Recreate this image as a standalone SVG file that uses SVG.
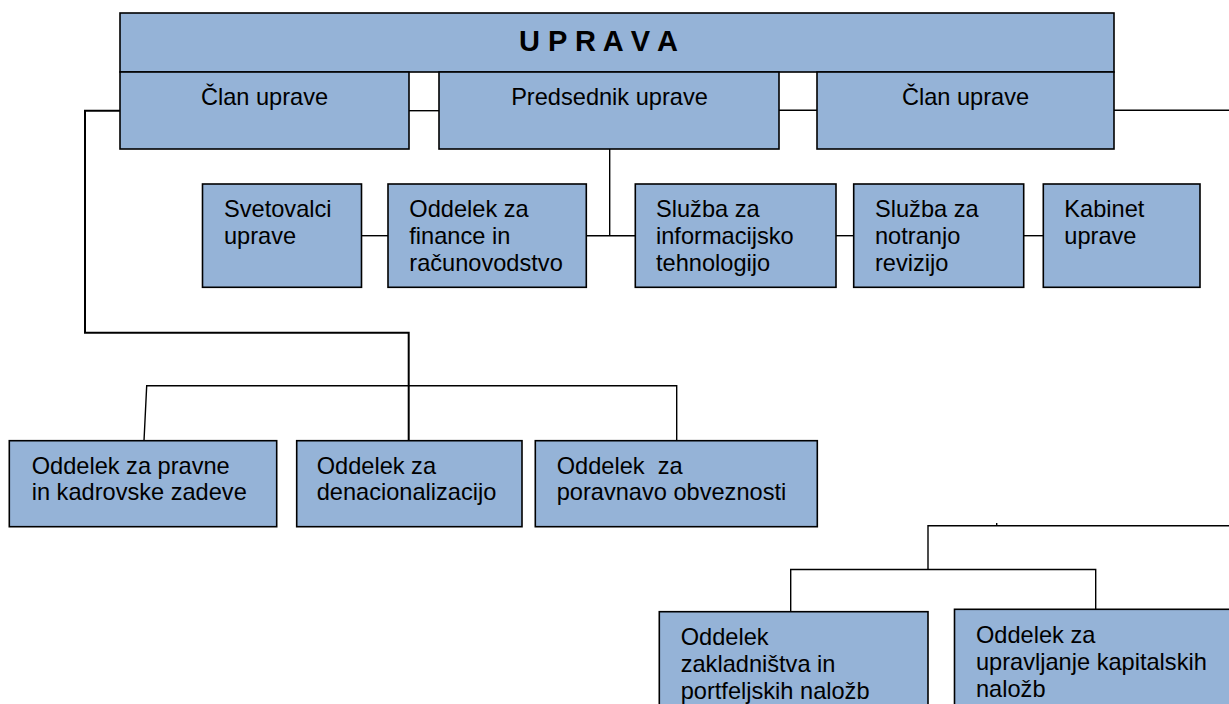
<svg xmlns="http://www.w3.org/2000/svg" width="1229" height="704" viewBox="0 0 1229 704">
<style>
.box{fill:#95B3D7;stroke:#000;stroke-width:1.6}
.t{font-family:"Liberation Sans",Arial,sans-serif;font-size:23.6px;fill:#000}
.c{text-anchor:middle}
.title{font-family:"Liberation Sans",Arial,sans-serif;font-size:29px;font-weight:bold;fill:#000}
.conn{fill:none;stroke:#000;stroke-width:1.4}
.conn2{fill:none;stroke:#000;stroke-width:2}
</style>
<rect width="1229" height="704" fill="#fff"/>
<g id="connectors">
<line class="conn" x1="409" y1="110.7" x2="439" y2="110.7"/>
<line class="conn" x1="779" y1="110.3" x2="817" y2="110.3"/>
<line class="conn" x1="1114" y1="110.3" x2="1229" y2="110.3"/>
<polyline class="conn2" points="120,110.7 85,110.7 85,332.7 408.7,332.7 408.7,440.7"/>
<polyline class="conn" points="144,440.7 146.7,385.7 676.7,385.7 676.7,440.7"/>
<line class="conn" x1="609.7" y1="149" x2="609.7" y2="235.7"/>
<line class="conn" x1="361.3" y1="235.7" x2="388" y2="235.7"/>
<line class="conn" x1="586.3" y1="235.7" x2="635.3" y2="235.7"/>
<line class="conn" x1="836" y1="235.7" x2="853.7" y2="235.7"/>
<line class="conn" x1="1023.7" y1="235.7" x2="1043.3" y2="235.7"/>
<polyline class="conn" points="1229,525.7 928,525.7 928,569.5"/>
<line class="conn" x1="996.7" y1="523" x2="996.7" y2="525.7"/>
<polyline class="conn" points="790.7,611.7 790.7,569.5 1095.7,569.5 1095.7,609.3"/>
</g>
<g id="uprava">
<rect class="box" x="120" y="13" width="994" height="59"/>
<text class="title" x="519" y="50.7">U P R A V A</text>
</g>
<g id="clan-levo">
<rect class="box" x="120" y="72" width="289" height="77"/>
<text class="t c" x="264.5" y="105">Član uprave</text>
</g>
<g id="predsednik">
<rect class="box" x="439" y="72" width="340" height="77"/>
<text class="t c" x="609.5" y="104.5">Predsednik uprave</text>
</g>
<g id="clan-desno">
<rect class="box" x="817" y="72" width="297" height="77"/>
<text class="t c" x="965.5" y="105">Član uprave</text>
</g>
<g id="svetovalci">
<rect class="box" x="202.5" y="184" width="159" height="103.3"/>
<text class="t"><tspan x="224" y="216.5">Svetovalci</tspan><tspan x="224" y="243.5">uprave</tspan></text>
</g>
<g id="finance">
<rect class="box" x="388" y="184" width="198.3" height="103.3"/>
<text class="t"><tspan x="409.3" y="216.5">Oddelek za</tspan><tspan x="409.3" y="243.5">finance in</tspan><tspan x="409.3" y="270.5">računovodstvo</tspan></text>
</g>
<g id="informacijska">
<rect class="box" x="635.3" y="184" width="200.7" height="103.3"/>
<text class="t"><tspan x="656" y="216.5">Služba za</tspan><tspan x="656" y="243.5">informacijsko</tspan><tspan x="656" y="270.5">tehnologijo</tspan></text>
</g>
<g id="revizija">
<rect class="box" x="853.7" y="184" width="170" height="103.3"/>
<text class="t"><tspan x="875" y="216.5">Služba za</tspan><tspan x="875" y="243.5">notranjo</tspan><tspan x="875" y="270.5">revizijo</tspan></text>
</g>
<g id="kabinet">
<rect class="box" x="1043.3" y="184" width="156.7" height="103.3"/>
<text class="t"><tspan x="1064.3" y="216.5">Kabinet</tspan><tspan x="1064.3" y="243.5">uprave</tspan></text>
</g>
<g id="pravne">
<rect class="box" x="9.3" y="440.7" width="267.4" height="86"/>
<text class="t"><tspan x="31.7" y="474">Oddelek za pravne</tspan><tspan x="31.7" y="500">in kadrovske zadeve</tspan></text>
</g>
<g id="denacionalizacija">
<rect class="box" x="296.7" y="440.7" width="225.3" height="86"/>
<text class="t"><tspan x="316.7" y="474">Oddelek za</tspan><tspan x="316.7" y="500">denacionalizacijo</tspan></text>
</g>
<g id="poravnava">
<rect class="box" x="535.3" y="440.7" width="282" height="86"/>
<text class="t" xml:space="preserve"><tspan x="556.7" y="474">Oddelek  za</tspan><tspan x="556.7" y="500">poravnavo obveznosti</tspan></text>
</g>
<g id="zakladnistvo">
<rect class="box" x="659.3" y="611.7" width="268.7" height="110"/>
<text class="t"><tspan x="680.7" y="645">Oddelek</tspan><tspan x="680.7" y="672">zakladništva in</tspan><tspan x="680.7" y="699">portfeljskih naložb</tspan></text>
</g>
<g id="kapitalske">
<rect class="box" x="954.5" y="609.3" width="300" height="110"/>
<text class="t"><tspan x="976" y="643">Oddelek za</tspan><tspan x="976" y="670">upravljanje kapitalskih</tspan><tspan x="976" y="697">naložb</tspan></text>
</g>
</svg>
